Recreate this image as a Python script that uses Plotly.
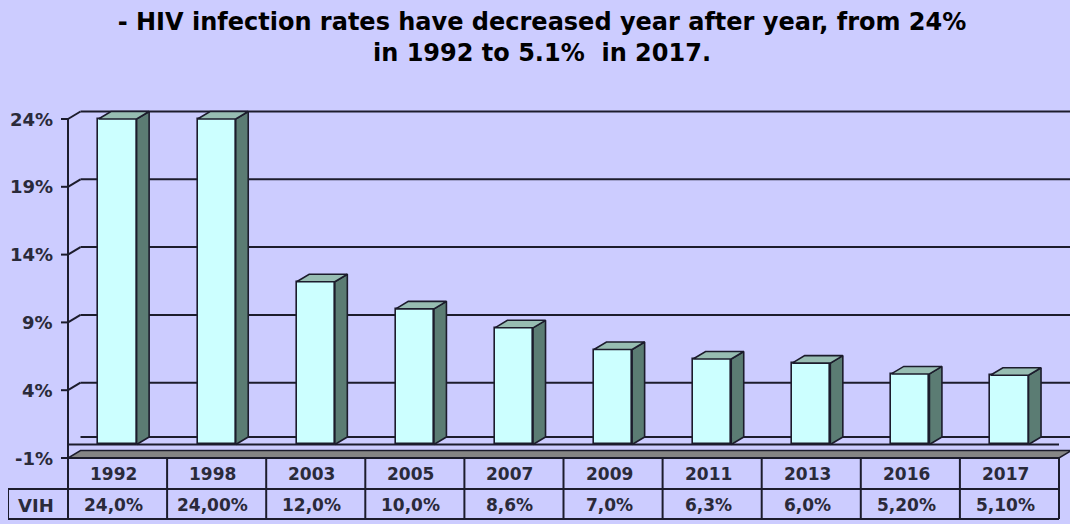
import plotly.graph_objects as go

# ---------------- data ----------------
years = ["1992", "1998", "2003", "2005", "2007", "2009", "2011", "2013", "2016", "2017"]
rates = [24.0, 24.0, 12.0, 10.0, 8.6, 7.0, 6.3, 6.0, 5.2, 5.1]
rate_labels = ["24,0%", "24,00%", "12,0%", "10,0%", "8,6%", "7,0%", "6,3%", "6,0%", "5,20%", "5,10%"]
y_ticks = [-1, 4, 9, 14, 19, 24]
y_tick_labels = ["-1%", "4%", "9%", "14%", "19%", "24%"]
row_label = "VIH"
title_text = "- HIV infection rates have decreased year after year, from 24%<br>in 1992 to 5.1%  in 2017."

# ---------------- geometry / style ----------------
W, H = 1070, 524
ML, MT = 8, 100
PX_X = 99.1          # px per category
PX_Y = 13.56         # px per percent
xmin = -0.5 - 60 / PX_X
xmax = xmin + (W - ML) / PX_X
ymin = -1 - (524 - 458) / PX_Y
ymax = ymin + (H - MT) / PX_Y
dx = 12.5 / PX_X     # 3D depth offsets
dy = 7.5 / PX_Y
bar_w = 0.385
row1 = -1 - 31 / PX_Y
row2 = -1 - 61 / PX_Y

BG = "#CCCCFF"
LINE = "#1c1c2c"
FRONT = "#CCFFFF"
SIDE = "#5B7C73"
TOP = "#97BDB2"
TXT = "#2a2a3a"

xi = list(range(len(years)))
n = len(years)
left = -0.5

shapes = []
def seg(x0, y0, x1, y1, w=2, color=LINE):
    shapes.append(dict(type="line", xref="x", yref="y", x0=x0, y0=y0, x1=x1, y1=y1,
                       line=dict(color=color, width=w), layer="below"))

# back-wall gridlines and their connectors to the front axis
for v in [0] + y_ticks[1:]:
    seg(left + dx, v + dy, xmax, v + dy)
for v in y_ticks[1:]:
    seg(left, v, left + dx, v + dy)
# tick marks
for v in y_ticks:
    seg(left - 7 / PX_X, v, left, v)
# front base line
seg(left, 0, n - 0.5, 0)
# floor slab
shapes.append(dict(type="path", xref="x", yref="y", layer="below",
                   path=f"M {left},{-1} L {n-0.5},{-1} L {n-0.5+dx},{-1+dy} L {left+dx},{-1+dy} Z",
                   fillcolor="#858585", line=dict(color=LINE, width=1.5)))
# vertical axis line (continues as table border)
seg(left, y_ticks[-1], left, row2)
# table lines
seg(left, -1, n - 0.5, -1)
seg(xmin, row1, n - 0.5, row1)
seg(xmin, row2, n - 0.5, row2)
seg(xmin, row1, xmin, row2)
for k in range(1, n + 1):
    seg(k - 0.5, -1, k - 0.5, row2)

fig = go.Figure()

# front faces of bars
fig.add_trace(go.Bar(x=xi, y=rates, width=bar_w, base=0,
                     marker=dict(color=FRONT, line=dict(color=LINE, width=1.6)),
                     hoverinfo="skip", showlegend=False))

# side and top faces
sx, sy, tx, ty = [], [], [], []
for i, v in zip(xi, rates):
    r = i + bar_w / 2
    l = i - bar_w / 2
    sx += [r, r + dx, r + dx, r, r, None]
    sy += [0, dy, v + dy, v, 0, None]
    tx += [l, l + dx, r + dx, r, l, None]
    ty += [v, v + dy, v + dy, v, v, None]
fig.add_trace(go.Scatter(x=sx, y=sy, mode="lines", fill="toself", fillcolor=SIDE,
                         line=dict(color=LINE, width=1.6), hoverinfo="skip", showlegend=False))
fig.add_trace(go.Scatter(x=tx, y=ty, mode="lines", fill="toself", fillcolor=TOP,
                         line=dict(color=LINE, width=1.6), hoverinfo="skip", showlegend=False))

annotations = []
# y tick labels
for v, t in zip(y_ticks, y_tick_labels):
    annotations.append(dict(x=left, y=v, xref="x", yref="y", text=t, showarrow=False,
                            xanchor="right", yanchor="middle", xshift=-13,
                            font=dict(family="DejaVu Sans", size=18, color=TXT, weight="bold")))
# table text
yc1 = (-1 + row1) / 2
yc2 = (row1 + row2) / 2
for i, (yr, lab) in zip(xi, zip(years, rate_labels)):
    annotations.append(dict(x=i, y=yc1, xref="x", yref="y", text=yr, showarrow=False,
                            xshift=-4, font=dict(family="DejaVu Sans", size=17, color=TXT, weight="bold")))
    annotations.append(dict(x=i, y=yc2, xref="x", yref="y", text=lab, showarrow=False,
                            xshift=-4, yshift=-1,
                            font=dict(family="DejaVu Sans", size=17, color=TXT, weight="bold")))
annotations.append(dict(x=(xmin + left) / 2, y=yc2, xref="x", yref="y", text=row_label,
                        showarrow=False, xshift=-2, yshift=-1,
                        font=dict(family="DejaVu Sans", size=18, color=TXT, weight="bold")))

fig.update_layout(
    width=W, height=H,
    margin=dict(l=ML, r=0, t=MT, b=0),
    paper_bgcolor=BG, plot_bgcolor=BG,
    title=dict(text=title_text, x=542 / W, xref="container", xanchor="center",
               y=1 - 30 / H, yref="container", yanchor="middle",
               font=dict(family="DejaVu Sans", size=24, color="#000000", weight="bold")),
    xaxis=dict(range=[xmin, xmax], visible=False, fixedrange=True),
    yaxis=dict(range=[ymin, ymax], visible=False, fixedrange=True),
    shapes=shapes, annotations=annotations,
    bargap=0, showlegend=False,
)

fig.write_html("out.html")
